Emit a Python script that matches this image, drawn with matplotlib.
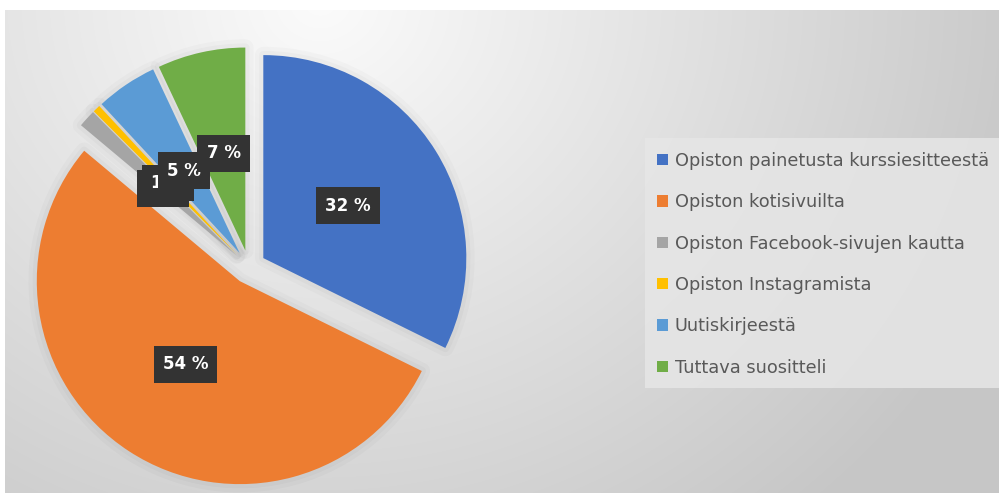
import matplotlib
matplotlib.use("Agg")
import matplotlib.pyplot as plt
import numpy as np
from matplotlib.patches import Rectangle, Wedge

# data (percent of answers)
categories = ["Opiston painetusta kurssiesitteestä",
              "Opiston kotisivuilta",
              "Opiston Facebook-sivujen kautta",
              "Opiston Instagramista",
              "Uutiskirjeestä",
              "Tuttava suositteli"]
shares = [32.3, 53.8, 1.4, 0.6, 4.9, 7.0]
colors = ["#4472C4", "#ED7D31", "#A5A5A5", "#FFC000", "#5B9BD5", "#70AD47"]

W, H = 999, 493
fig = plt.figure(figsize=(W / 100, H / 100), dpi=100)

# background: soft radial gray gradient like the Office chart area
bg = fig.add_axes([0, 0, 1, 1], zorder=0)
yy, xx = np.mgrid[0:H, 0:W]
dist = np.hypot(xx - 320, (yy - 0) * 1.1)
shade = np.clip(0.985 - dist / 720 * 0.20, 0.78, 0.985)
img = np.dstack([shade, shade, shade])
img[:10, :, :] = 1.0
img[:, :5, :] = 1.0
bg.imshow(img, extent=(0, W, H, 0), aspect="auto", interpolation="bilinear")
bg.set_xlim(0, W)
bg.set_ylim(H, 0)
bg.axis("off")

# legend background panel
bg.add_patch(Rectangle((645, 138), W - 645, 250, facecolor="#e6e6e6",
                       edgecolor="none", alpha=0.85))

# pie axes: unit radius = R px, centre at (cx, cy) in pixels from top-left
R = 203.0
cx, cy = 249.0, 267.0
ax = fig.add_axes([0, 0, 1, 1], zorder=1)
ax.patch.set_alpha(0)
ax.axis("off")

wedges, texts, autotexts = ax.pie(
    shares, colors=colors, startangle=90, counterclock=False,
    explode=[0.083] * len(shares), radius=1.0,
    autopct="%.0f %%", pctdistance=0.49,
    wedgeprops=dict(linewidth=0),
    textprops=dict(color="white", fontsize=12, fontweight="bold"))
ax.set_xlim(-cx / R, (W - cx) / R)
ax.set_ylim(-(H - cy) / R, cy / R)
ax.set_aspect("auto")

# faint shadow around the slices
for w in wedges:
    for lw, a in [(12, 0.018), (6, 0.025)]:
        s = Wedge(w.center, w.r, w.theta1, w.theta2, facecolor="none",
                  edgecolor="black", linewidth=lw, alpha=a, zorder=0.5,
                  joinstyle="round")
        ax.add_patch(s)

for t in autotexts:
    t.set_bbox(dict(boxstyle="square,pad=0.55", facecolor="#333333",
                    edgecolor="none"))

leg = ax.legend(wedges, categories, loc="upper left",
                bbox_to_anchor=(650 / W, 1 - 145 / H),
                bbox_transform=fig.transFigure, frameon=False,
                fontsize=12.8, handlelength=0.6, handleheight=0.6,
                handletextpad=0.4, labelspacing=1.31, borderaxespad=0)
for t in leg.get_texts():
    t.set_color("#595959")

fig.savefig("out.png", dpi=100)
